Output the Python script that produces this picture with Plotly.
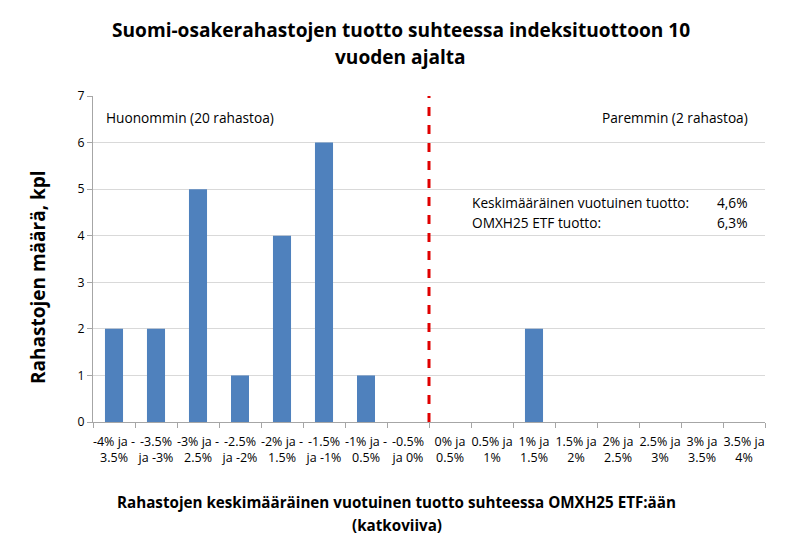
import plotly.graph_objects as go

categories = ["-4% ja -<br>3.5%", "-3.5%<br>ja -3%", "-3% ja -<br>2.5%", "-2.5%<br>ja -2%",
              "-2% ja -<br>1.5%", "-1.5%<br>ja -1%", "-1% ja -<br>0.5%", "-0.5%<br>ja 0%",
              "0% ja<br>0.5%", "0.5% ja<br>1%", "1% ja<br>1.5%", "1.5% ja<br>2%",
              "2% ja<br>2.5%", "2.5% ja<br>3%", "3% ja<br>3.5%", "3.5% ja<br>4%"]
counts = [2, 2, 5, 1, 4, 6, 1, 0, 0, 0, 2, 0, 0, 0, 0, 0]

title_lines = ["Suomi-osakerahastojen tuotto suhteessa indeksituottoon 10", "vuoden ajalta"]
xtitle_lines = ["Rahastojen keskimääräinen vuotuinen tuotto suhteessa OMXH25 ETF:ään", "(katkoviiva)"]
ytitle = "Rahastojen määrä, kpl"

FONT = "Open Sans"

fig = go.Figure()
fig.add_trace(go.Bar(x=categories, y=counts, marker=dict(color="#4F81BD", line=dict(width=0)),
                     width=0.43))

fig.update_layout(
    width=792, height=545,
    margin=dict(l=85, r=35, t=88, b=131),
    paper_bgcolor="white", plot_bgcolor="white",
    font=dict(family=FONT, size=12, color="black"),
    showlegend=False,
    xaxis=dict(type="category", showgrid=False, showline=True, linecolor="#A6A6A6", linewidth=1,
               ticks="outside", tickson="boundaries", ticklen=5, tickcolor="#A6A6A6",
               tickangle=0, tickfont=dict(size=12.5), ticklabelstandoff=8, automargin=False),
    yaxis=dict(range=[0, 7], dtick=1, showgrid=True, gridcolor="#D9D9D9", gridwidth=1,
               showline=True, linecolor="#A6A6A6", linewidth=1, ticks="outside", ticklen=5,
               tickcolor="#A6A6A6", zeroline=False, tickfont=dict(size=12.3), automargin=False),
)

fig.add_shape(type="line", xref="x", yref="paper", x0=7.5, x1=7.5, y0=0, y1=1,
              line=dict(color="#E00000", width=3, dash="dash"))

# chart title (two lines)
for txt, yy in zip(title_lines, [1.2025, 1.1196]):
    fig.add_annotation(text="<b>" + txt + "</b>", xref="paper", yref="paper", x=0.4576, y=yy,
                       xanchor="center", yanchor="middle", showarrow=False,
                       font=dict(family=FONT, size=19.1, color="black"))
# x axis title (two lines)
for txt, yy in zip(xtitle_lines, [-0.2454, -0.316]):
    fig.add_annotation(text="<b>" + txt + "</b>", xref="paper", yref="paper", x=0.452, y=yy,
                       xanchor="center", yanchor="middle", showarrow=False,
                       font=dict(family=FONT, size=15.2, color="black"))
# y axis title
fig.add_annotation(text="<b>" + ytitle + "</b>", xref="paper", yref="paper", x=-0.0818, y=0.445,
                   xanchor="center", yanchor="middle", textangle=-90, showarrow=False,
                   font=dict(family=FONT, size=19, color="black"))

ann_font = dict(family=FONT, size=13.7, color="black")
fig.add_annotation(text="Huonommin (20 rahastoa)", xref="paper", yref="y", x=0.016, y=6.53,
                   xanchor="left", yanchor="middle", showarrow=False, font=ann_font)
fig.add_annotation(text="Paremmin (2 rahastoa)", xref="paper", yref="y", x=0.978, y=6.53,
                   xanchor="right", yanchor="middle", showarrow=False, font=ann_font)
fig.add_annotation(text="Keskimääräinen vuotuinen tuotto:", xref="paper", yref="y", x=0.561, y=4.72,
                   xanchor="left", yanchor="middle", showarrow=False, font=ann_font)
fig.add_annotation(text="4,6%", xref="paper", yref="y", x=0.978, y=4.72,
                   xanchor="right", yanchor="middle", showarrow=False, font=ann_font)
fig.add_annotation(text="OMXH25 ETF tuotto:", xref="paper", yref="y", x=0.561, y=4.29,
                   xanchor="left", yanchor="middle", showarrow=False, font=ann_font)
fig.add_annotation(text="6,3%", xref="paper", yref="y", x=0.978, y=4.29,
                   xanchor="right", yanchor="middle", showarrow=False, font=ann_font)

fig.write_html("out.html")
